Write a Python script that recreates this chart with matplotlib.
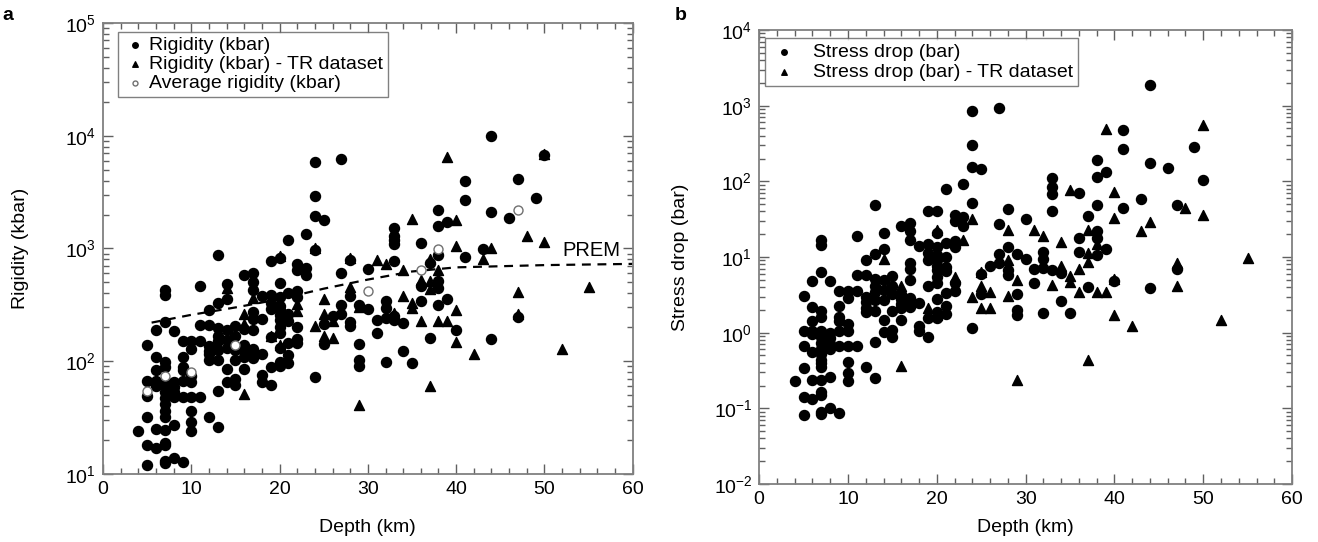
import numpy as np
import matplotlib
matplotlib.use("Agg")
import matplotlib.pyplot as plt
from matplotlib.ticker import LogLocator, MultipleLocator, NullFormatter

plt.rcParams['font.family'] = ['Liberation Sans', 'DejaVu Sans']
plt.rcParams['mathtext.fontset'] = 'custom'
plt.rcParams['mathtext.rm'] = 'Liberation Sans'

# ---- panel a: rigidity (kbar), values grouped by depth (km) ----
rig_depths = [4, 5, 6, 7, 8, 9, 10, 11, 12, 13, 14, 15, 16, 17, 18, 19, 20,
              21, 22, 23, 24, 25, 26, 27, 28, 29, 30, 31, 32, 33, 34, 35, 36,
              37, 38, 39, 40, 41, 43, 44, 46, 47, 49, 50]
rig_groups = [
    [24],
    [139, 67, 49, 32, 18, 12],
    [189, 110, 84, 67, 60, 25, 17],
    [430, 386, 223, 99, 89, 67, 60, 53, 47, 42, 36, 32, 24.5, 19, 18, 13, 12.4],
    [186, 65, 59, 53, 48, 27, 13.9],
    [151, 110, 89, 83, 67, 48, 12.9],
    [151, 128, 74, 65, 48, 36, 29, 24],
    [465, 208, 151, 48],
    [285, 208, 137, 124, 115, 103, 32],
    [870, 327, 199, 168, 151, 125, 102, 54, 26],
    [488, 359, 190, 154, 130, 85, 66],
    [206, 168, 125, 102, 69, 61],
    [581, 195, 139, 124, 110, 85],
    [610, 507, 428, 274, 236, 190, 128, 115, 106],
    [380, 236, 117, 75, 66],
    [773, 384, 331, 289, 165, 89, 61],
    [826, 498, 372, 310, 283, 255, 230, 201, 177, 131, 99, 91],
    [1200, 405, 260, 227, 146, 113, 96],
    [722, 644, 420, 372, 203, 157, 146],
    [1350, 665, 577],
    [5900, 2950, 1950, 960, 72],
    [1780, 215, 141],
    [251],
    [6200, 605, 318, 262],
    [794, 380, 224, 204],
    [316, 141, 102, 91],
    [661, 288],
    [234, 178],
    [339, 299, 244, 98],
    [1510, 1290, 1200, 1100, 776, 251, 234],
    [219, 123],
    [96],
    [1120, 468, 339],
    [741, 162],
    [2190, 1580, 871, 513, 447, 316],
    [1700, 355],
    [191],
    [4000, 2700, 832],
    [990],
    [10000, 2090, 158],
    [1860],
    [4100, 245],
    [2800],
    [6800],
]

rig_tr_depths = [14, 16, 17, 19, 20, 22, 24, 25, 26, 28, 29, 31, 32, 33, 34,
                 35, 36, 37, 38, 39, 40, 42, 43, 44, 47, 48, 50, 52, 55]
rig_tr_groups = [
    [447], [261, 214, 51], [366], [166], [850, 140], [320, 279], [206, 1000],
    [355, 263, 166], [229, 162], [457, 830], [302, 41], [794], [724], [269],
    [645, 380], [1840, 331, 295], [229, 525], [813, 513, 437, 60], [645, 229],
    [229, 6500], [1780, 1050, 282, 148], [115], [813], [1000], [407, 263],
    [1290], [1150, 6900], [129], [457],
]

avg_depth = [5, 7, 10, 15, 30, 36, 38, 47]
avg_rigidity = [54, 74, 81, 139, 417, 646, 980, 2190]

prem_depth = [5.5, 10, 15, 20, 25, 30, 35, 40, 50, 60]
prem_rigidity = [220, 258, 300, 355, 440, 530, 625, 680, 712, 730]

# ---- panel b: stress drop (bar), values grouped by depth (km) ----
sd_depths = [4, 5, 6, 7, 8, 9, 10, 11, 12, 13, 14, 15, 16, 17, 18, 19, 20,
             21, 22, 23, 24, 25, 26, 27, 28, 29, 30, 31, 32, 33, 34, 35, 36,
             37, 38, 39, 40, 41, 43, 44, 46, 47, 49, 50]
sd_groups = [
    [0.23],
    [3.1, 1.06, 0.66, 0.34, 0.14, 0.081],
    [4.8, 2.17, 1.43, 1.06, 0.95, 0.55, 0.24, 0.134],
    [16.8, 14.4, 6.3, 1.94, 1.63, 1.06, 0.89, 0.73, 0.61, 0.52, 0.44, 0.40,
     0.35, 0.24, 0.162, 0.151, 0.089, 0.084],
    [4.8, 0.98, 0.85, 0.70, 0.61, 0.26, 0.10],
    [3.6, 2.26, 1.6, 1.43, 1.04, 0.66, 0.088],
    [3.6, 2.85, 1.29, 1.06, 0.66, 0.41, 0.29, 0.23],
    [19.1, 5.7, 3.6, 0.66],
    [9.1, 5.8, 3.0, 2.58, 2.15, 1.9, 0.35],
    [48.5, 11.0, 5.2, 4.15, 3.4, 2.7, 1.94, 0.75, 0.25],
    [20.5, 12.9, 5.0, 3.7, 2.7, 1.48, 1.01],
    [5.6, 4.15, 3.2, 1.96, 1.07, 0.87],
    [25.9, 3.2, 2.77, 2.38, 2.1, 1.48],
    [28.2, 22.4, 17, 8.4, 6.9, 4.9, 2.85, 2.4, 2.2],
    [14.1, 2.45, 1.24, 1.04],
    [40.8, 14.7, 11.4, 9.0, 4.15, 1.55, 0.89],
    [40.8, 21, 13.7, 10.6, 9.1, 7.6, 6.7, 5.5, 4.5, 2.8, 1.85, 1.55],
    [79, 15.1, 9.9, 7.3, 6.6, 3.3, 2.26, 1.77],
    [35.8, 30.2, 16.3, 13.7, 4.5, 3.6],
    [91, 33.3, 25.7],
    [850, 300, 155, 51, 1.14],
    [145, 5.9, 3.2],
    [7.6],
    [930, 27.5, 11, 8.3],
    [43, 13.6, 6.8, 5.8],
    [11, 3.2, 2.0, 1.7],
    [32, 9.3],
    [6.9, 4.6],
    [11.5, 9.4, 7.1, 1.84],
    [111, 85, 68, 40, 6.8],
    [6.2, 2.6],
    [1.8],
    [70, 18, 11.7],
    [35, 4.0],
    [190, 115, 48.5, 22, 17.6, 10.6],
    [131, 12.7],
    [4.8],
    [480, 270, 45],
    [58],
    [1900, 175, 3.9],
    [152],
    [49, 6.9],
    [285],
    [103],
]

sd_tr_depths = [14, 16, 19, 20, 22, 23, 24, 25, 26, 28, 29, 31, 32, 33, 34,
                35, 36, 37, 38, 39, 40, 42, 43, 44, 47, 48, 50, 52, 55]
sd_tr_groups = [
    [9.4], [4.15, 0.36], [2.15], [23, 1.72], [5.5], [16.6], [32, 2.94],
    [6.3, 4.15, 2.1], [3.4, 2.1], [22.6, 9.1, 3.1], [5.0, 0.235], [22.6],
    [19], [4.3], [16, 7.5], [76, 5.6, 4.7], [6.9, 3.4],
    [22.6, 11.2, 8.7, 0.43], [15, 3.4], [490, 3.4], [73, 33, 5.2, 1.7],
    [1.23], [22], [29], [8.3, 4.2], [45], [560, 36], [1.45], [9.6],
]


def flatten(depths, groups):
    xs, ys = [], []
    for d, g in zip(depths, groups):
        xs += [d] * len(g)
        ys += g
    return np.array(xs), np.array(ys)


FS = 14


def style_axes(ax, xpad):
    for s in ax.spines.values():
        s.set_color('#808080')
        s.set_linewidth(1.3)
    ax.set_xlim(0, 60)
    ax.xaxis.set_major_locator(MultipleLocator(10))
    ax.xaxis.set_minor_locator(MultipleLocator(2))
    ax.yaxis.set_minor_locator(LogLocator(base=10, subs=np.arange(2, 10), numticks=20))
    ax.yaxis.set_minor_formatter(NullFormatter())
    ax.tick_params(which='both', direction='in', top=True, right=True,
                   color='#606060', labelsize=FS, width=1)
    ax.tick_params(which='major', length=7, pad=5)
    ax.tick_params(which='minor', length=4)
    ax.set_xlabel('Depth (km)', fontsize=FS, labelpad=xpad)


fig = plt.figure(figsize=(13.18, 5.42), dpi=100)
ax1 = fig.add_axes([0.0782, 0.1255, 0.4018, 0.8321])
ax2 = fig.add_axes([0.576, 0.107, 0.4043, 0.8376])

msz = 52

# panel a
x, y = flatten(rig_depths, rig_groups)
ax1.scatter(x, y, s=msz, marker='o', color='black', zorder=3,
            label='Rigidity (kbar)')
x, y = flatten(rig_tr_depths, rig_tr_groups)
ax1.scatter(x, y, s=msz, marker='^', color='black', zorder=3,
            label='Rigidity (kbar) - TR dataset')
ax1.scatter(avg_depth, avg_rigidity, s=42, marker='o', facecolor='white',
            edgecolor='#707070', linewidth=1, zorder=4,
            label='Average rigidity (kbar)')
ax1.plot(prem_depth, prem_rigidity, color='black', linestyle=(0, (4, 3)),
         linewidth=1.6, zorder=2)
ax1.text(52.0, 860, 'PREM', fontsize=FS + 0.5)
ax1.set_yscale('log')
ax1.set_ylim(10, 1e5)
style_axes(ax1, 15)
ax1.set_ylabel('Rigidity (kbar)', fontsize=FS, labelpad=26)
leg = ax1.legend(loc='upper left', bbox_to_anchor=(0.028, 0.98),
                 borderaxespad=0, fontsize=FS, frameon=True, fancybox=False,
                 markerscale=0.55, handletextpad=0.05, labelspacing=0.05,
                 borderpad=0.25, handlelength=1.3)
leg.get_frame().set_edgecolor('#606060')
leg.get_frame().set_linewidth(1)

# panel b
x, y = flatten(sd_depths, sd_groups)
ax2.scatter(x, y, s=msz, marker='o', color='black', zorder=3,
            label='Stress drop (bar)')
x, y = flatten(sd_tr_depths, sd_tr_groups)
ax2.scatter(x, y, s=msz, marker='^', color='black', zorder=3,
            label='Stress drop (bar) - TR dataset')
ax2.set_yscale('log')
ax2.set_ylim(1e-2, 1e4)
style_axes(ax2, 8)
ax2.set_ylabel('Stress drop (bar)', fontsize=FS, labelpad=18)
leg = ax2.legend(loc='upper left', bbox_to_anchor=(0.011, 0.982),
                 borderaxespad=0, fontsize=FS, frameon=True, fancybox=False,
                 markerscale=0.55, handletextpad=0.7, labelspacing=0.15,
                 borderpad=0.25, handlelength=1.5)
leg.get_frame().set_edgecolor('#606060')
leg.get_frame().set_linewidth(1)

fig.text(0.002, 0.963, 'a', fontsize=FS, fontweight='bold')
fig.text(0.512, 0.963, 'b', fontsize=FS, fontweight='bold')

fig.savefig('out.png', dpi=100)
